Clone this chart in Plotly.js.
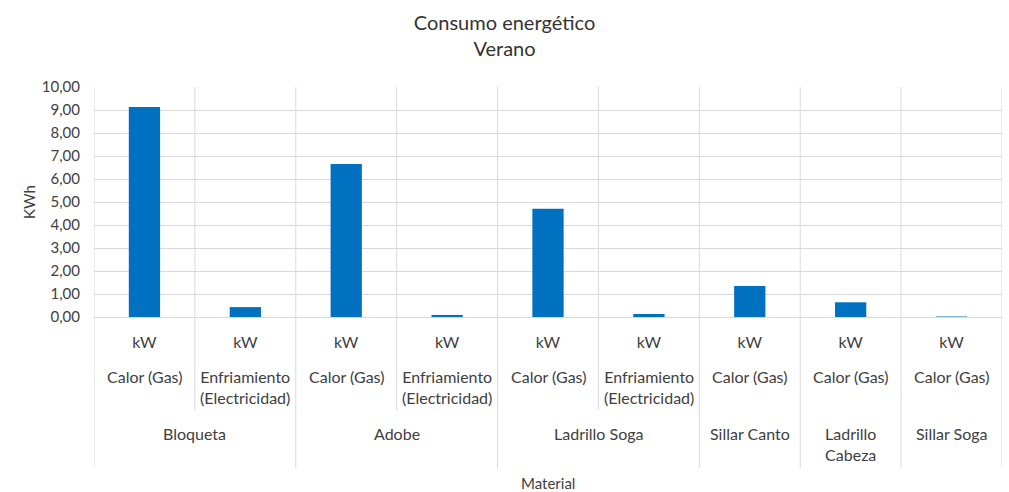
<!DOCTYPE html>
<html>
<head>
<meta charset="utf-8">
<script src="https://cdn.plot.ly/plotly-3.0.1.min.js"></script>
<style>html,body{margin:0;padding:0;background:#fff;}#chart{width:1009px;height:492px;}</style>
</head>
<body>
<div id="chart"></div>
<script>
var materials = ['Bloqueta','Bloqueta','Adobe','Adobe','Ladrillo Soga','Ladrillo Soga','Sillar Canto','Ladrillo Cabeza','Sillar Soga'];
var types = ['Calor (Gas)','Enfriamiento (Electricidad)','Calor (Gas)','Enfriamiento (Electricidad)','Calor (Gas)','Enfriamiento (Electricidad)','Calor (Gas)','Calor (Gas)','Calor (Gas)'];
var units = ['kW','kW','kW','kW','kW','kW','kW','kW','kW'];
var values = [9.13, 0.43, 6.65, 0.09, 4.71, 0.13, 1.35, 0.64, 0.02];
var yTicks = [0,1,2,3,4,5,6,7,8,9,10];

var FONT = 'Lato, "Open Sans", sans-serif';
var TXT = '#404040';
var GRID = '#d9d9d9';
var idx = values.map(function(v,i){return i;});

// group ranges
var groups = [];
materials.forEach(function(m,i){
  if (groups.length && groups[groups.length-1].name === m) groups[groups.length-1].end = i;
  else groups.push({name:m,start:i,end:i});
});

var shapes = [];
var annotations = [];
var yType = -0.208, yMat = -0.455, yShort = -0.404, yLong = -0.657;
for (var b = 0; b <= values.length; b++) {
  var isGroup = (b === 0 || b === values.length || materials[b] !== materials[b-1]);
  shapes.push({type:'line', xref:'x', yref:'paper', x0:b-0.5, x1:b-0.5, y0:1, y1:isGroup?yLong:yShort,
    line:{color:GRID, width:1}, layer:'below'});
}
types.forEach(function(t,i){
  annotations.push({xref:'x', yref:'paper', x:i, y:yType, yanchor:'top', xanchor:'center', showarrow:false,
    text: t.length > 14 ? t.replace(' (', '<br>(') : t, font:{family:FONT,size:16,color:TXT}});
});
groups.forEach(function(g){
  var single = g.start === g.end;
  annotations.push({xref:'x', yref:'paper', x:(g.start+g.end)/2, y:yMat, yanchor:'top', xanchor:'center', showarrow:false,
    text: (single && g.name.length > 12) ? g.name.replace(' ', '<br>') : g.name, font:{family:FONT,size:16,color:TXT}});
});
annotations.push({xref:'paper', yref:'paper', x:0.5, y:-0.722, yanchor:'middle', xanchor:'center', showarrow:false,
  text:'Material', font:{family:FONT,size:15,color:TXT}});

Plotly.newPlot('chart', [{
  type:'bar', x:idx, y:values, width:0.31,
  marker:{color:'#0070C0', line:{width:0}}, hoverinfo:'y'
}], {
  width:1009, height:492,
  margin:{l:94, r:7, t:87, b:175},
  paper_bgcolor:'#fff', plot_bgcolor:'#fff',
  separators:',.',
  showlegend:false,
  title:{text:'Consumo energético<br>Verano', x:0.5, xanchor:'center', y:1-30/492, yanchor:'middle',
    font:{family:FONT, size:20, color:'#333'}},
  xaxis:{range:[-0.5, values.length-0.5], tickvals:idx, ticktext:units, showgrid:false, zeroline:false,
    ticks:'outside', ticklen:11, tickcolor:'rgba(0,0,0,0)', showline:false,
    tickfont:{family:FONT,size:16,color:TXT}, fixedrange:true},
  yaxis:{range:[0,10], tickvals:yTicks, tickformat:'.2f', showgrid:true, gridcolor:GRID, gridwidth:1,
    zeroline:true, zerolinecolor:GRID, zerolinewidth:1, showline:false,
    ticks:'outside', ticklen:10, tickcolor:'rgba(0,0,0,0)',
    tickfont:{family:FONT,size:15,color:TXT},
    title:{text:'KWh', standoff:2, font:{family:FONT,size:15,color:TXT}}, fixedrange:true},
  shapes:shapes,
  annotations:annotations
}, {displayModeBar:false, staticPlot:true});
</script>
</body>
</html>
